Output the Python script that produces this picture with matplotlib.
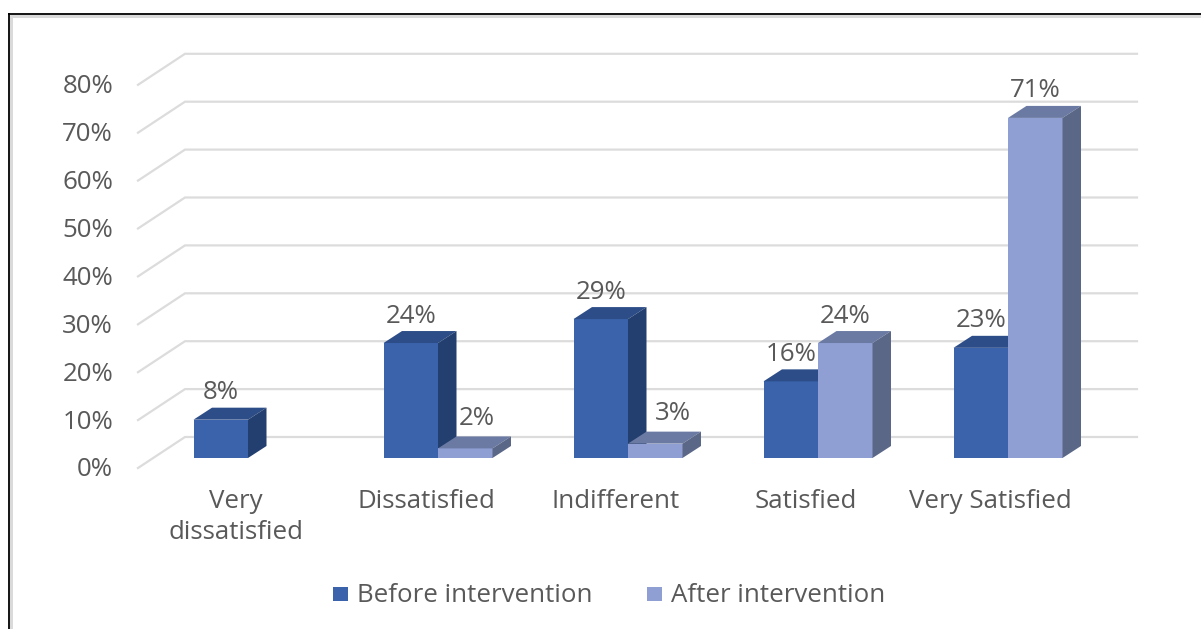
import matplotlib
matplotlib.use('Agg')
import matplotlib.pyplot as plt
from matplotlib.patches import Polygon, Rectangle

plt.rcParams['font.family'] = ['Open Sans', 'DejaVu Sans']

# Data
categories = ['Very\ndissatisfied', 'Dissatisfied', 'Indifferent', 'Satisfied', 'Very Satisfied']
before = [8, 24, 29, 16, 23]
after = [None, 2, 3, 24, 71]
y_ticks = [0, 10, 20, 30, 40, 50, 60, 70, 80]

# Scale of the front plane of the bars
W, H = 1201, 629
PX_X = 190.0    # pixels per category
PX_Y = 4.79     # pixels per percent
X0, Y0 = 248.0, 458.0

BAR_W = 54.5 / PX_X
DEPTH_X, DEPTH_Y = 18.5 / PX_X, 12 / PX_Y      # bar depth
WALL_X, WALL_Y = 62.0 / PX_X, 21 / PX_Y        # bar front to back wall
FLOOR_X, FLOOR_Y = 47.0 / PX_X, 31 / PX_Y      # width of the floor and side wall

BLUE = ('#3A63AC', '#2C4D87', '#233F6F')
LIGHT = ('#8F9FD4', '#6B7AA3', '#5B6787')
GRID = '#DCDCDC'
TEXT = '#595959'
FS = 18.6

fig = plt.figure(figsize=(W / 100, H / 100), dpi=100)
ax = fig.add_axes([0, 0, 1, 1])
ax.set_xlim(-X0 / PX_X, (W - X0) / PX_X)
ax.set_ylim((Y0 - H) / PX_Y, Y0 / PX_Y)
ax.axis('off')

# Gridlines on the back and side walls
wall_left = (185 - X0) / PX_X
wall_right = (1137 - X0) / PX_X
for v in y_ticks:
    ax.plot([wall_left - FLOOR_X, wall_left, wall_right],
            [v + WALL_Y - FLOOR_Y, v + WALL_Y, v + WALL_Y],
            color=GRID, lw=1.6, zorder=1, solid_joinstyle='miter')
    ax.text((113 - X0) / PX_X, v + WALL_Y - FLOOR_Y - 2 / PX_Y, f'{v}%', ha='right', va='center',
            fontsize=FS, color=TEXT)


def draw_bar(x, v, colors, z):
    front, top, side = colors
    ax.add_patch(Rectangle((x, 0), BAR_W, v, fc=front, ec='none', zorder=z))
    ax.add_patch(Polygon([(x, v), (x + BAR_W, v), (x + BAR_W + DEPTH_X, v + DEPTH_Y), (x + DEPTH_X, v + DEPTH_Y)],
                         fc=top, ec='none', zorder=z))
    ax.add_patch(Polygon([(x + BAR_W, 0), (x + BAR_W + DEPTH_X, DEPTH_Y), (x + BAR_W + DEPTH_X, v + DEPTH_Y), (x + BAR_W, v)],
                         fc=side, ec='none', zorder=z))


LABEL_GAP = 27 / PX_Y
# short bars: the label moves right and up, clear of the taller neighbour
after_nudge = {1: (11, 3), 2: (18, 3)}
for i, (b, a) in enumerate(zip(before, after)):
    draw_bar(i - BAR_W, b, BLUE, 2 + i)
    ax.text(i - BAR_W / 2, b + LABEL_GAP, f'{b}%', ha='center', va='center',
            fontsize=FS, color=TEXT, zorder=20)
    if a is not None:
        draw_bar(i, a, LIGHT, 2.5 + i)
        nx, ny = after_nudge.get(i, (0, 0))
        ax.text(i + BAR_W / 2 + nx / PX_X, a + LABEL_GAP + ny / PX_Y, f'{a}%', ha='center', va='center',
                fontsize=FS, color=TEXT, zorder=20)

# Category labels
for i, c in enumerate(categories):
    shift = -18 if i == 4 else -12
    ax.text(i + shift / PX_X, (Y0 - 489) / PX_Y, c, ha='center', va='top',
            fontsize=FS, color=TEXT, linespacing=1.33)

# Legend
for px, color, label in [(333, BLUE[0], 'Before intervention'), (647, LIGHT[0], 'After intervention')]:
    ax.add_patch(Rectangle(((px - X0) / PX_X, (Y0 - 601) / PX_Y), 15 / PX_X, 14 / PX_Y, fc=color, ec='none'))
    ax.text((px + 24 - X0) / PX_X, (Y0 - 595) / PX_Y, label, ha='left', va='center',
            fontsize=FS, color=TEXT)

# Frame along the top and left edges
for (xs, ys, col, lw) in [([10.8, 10.8], [15, 629], '#DADADA', 3), ([10, 1201], [16, 16], '#DADADA', 3),
                          ([8.6, 8.6], [13, 629], 'black', 1.8), ([8, 1201], [13.6, 13.6], 'black', 1.8)]:
    ax.plot([(p - X0) / PX_X for p in xs], [(Y0 - p) / PX_Y for p in ys], color=col, lw=lw * 0.72, zorder=30,
            solid_capstyle='butt')

plt.savefig('out.png', dpi=100)
